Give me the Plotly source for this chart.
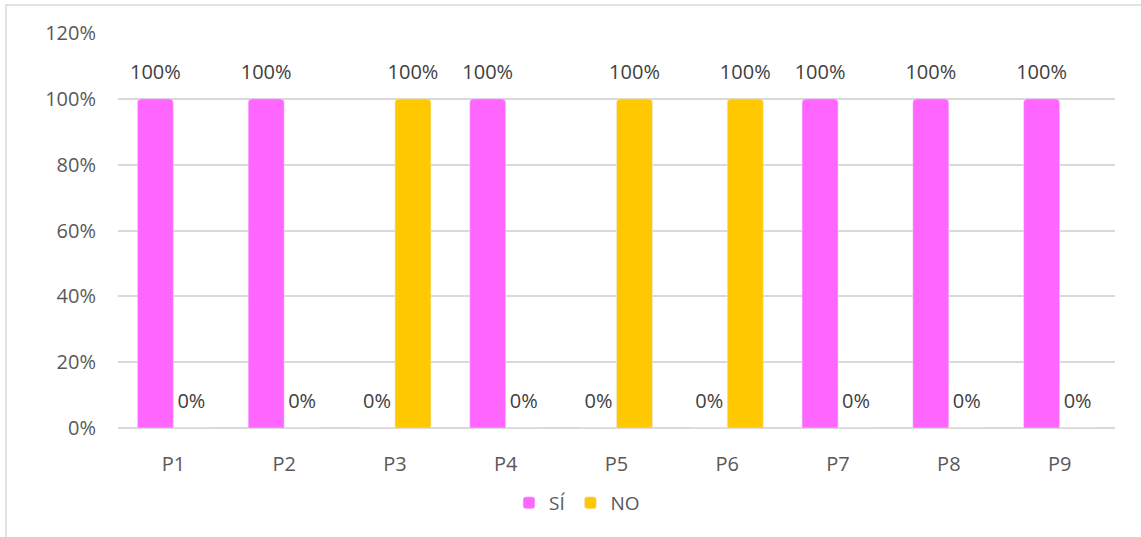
import plotly.graph_objects as go

categories = ["P1", "P2", "P3", "P4", "P5", "P6", "P7", "P8", "P9"]
si_values = [100, 100, 0, 100, 0, 0, 100, 100, 100]
no_values = [0, 0, 100, 0, 100, 100, 0, 0, 0]
y_ticks = [0, 20, 40, 60, 80, 100, 120]
y_tick_labels = [f"{v}%" for v in y_ticks]

FONT = "Open Sans"
TXT = "#595959"
LBL = "#404040"

series = [("SÍ", si_values, "#FF66FF", "si"), ("NO", no_values, "#FFC800", "no")]

fig = go.Figure()
for name, vals, color, grp in series:
    fig.add_trace(go.Bar(
        name=name, x=categories, y=vals, offsetgroup=grp,
        marker=dict(color=color, cornerradius=4),
    ))
for name, vals, color, grp in series:
    fig.add_trace(go.Scatter(
        x=categories, y=vals, offsetgroup=grp, mode="markers+text",
        marker=dict(size=22, opacity=0), showlegend=False, hoverinfo="skip",
        text=[f"{v}%" for v in vals], textposition="top center",
        textfont=dict(family=FONT, size=20, color=LBL), cliponaxis=False,
    ))

fig.update_layout(
    width=1141, height=537, autosize=False,
    margin=dict(l=118, r=26, t=33, b=109, autoexpand=False),
    paper_bgcolor="white", plot_bgcolor="white",
    barmode="group", bargap=0.35, bargroupgap=0,
    scattermode="group", scattergap=0.35,
    font=dict(family=FONT, size=20, color=TXT),
    showlegend=True,
    legend=dict(orientation="h", x=(577 - 118) / 997, xanchor="center",
                y=(428 - 503) / 395, yanchor="middle",
                font=dict(family=FONT, size=19, color=TXT),
                itemwidth=30, tracegroupgap=0),
    xaxis=dict(showgrid=False, showline=False, ticks="", ticklabelstandoff=22,
               tickfont=dict(family=FONT, size=20, color=TXT)),
    yaxis=dict(range=[0, 120], tickvals=y_ticks, ticktext=y_tick_labels,
               showgrid=True, gridcolor="#d9d9d9", gridwidth=1.5,
               zeroline=True, zerolinecolor="#d9d9d9", zerolinewidth=2,
               showline=False, ticks="", ticklabelstandoff=21,
               tickfont=dict(family=FONT, size=20, color=TXT)),
    shapes=[dict(type="rect", xref="paper", yref="paper",
                 x0=(6 - 118) / 997, x1=(1146 - 118) / 997,
                 y0=(428 - 545) / 395, y1=1 + (33 - 5) / 395,
                 line=dict(color="#d9d9d9", width=1.5), layer="below")],
)

fig.write_html("out.html")
